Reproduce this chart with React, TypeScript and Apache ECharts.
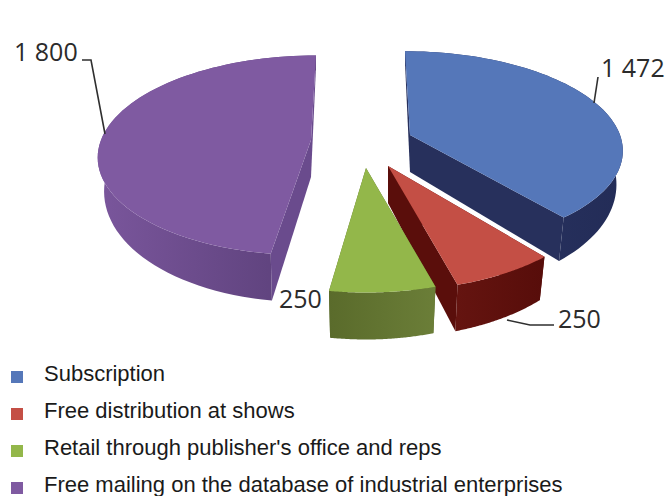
import React, { useEffect, useRef } from "react";
import * as echarts from "echarts";

const categories = [
  "Subscription",
  "Free distribution at shows",
  "Retail through publisher's office and reps",
  "Free mailing on the database of industrial enterprises",
];
const values = [1472, 250, 250, 1800];
const tickLabels = ["1 472", "250", "250", "1 800"];

const topColors = ["#5577b9", "#c44f45", "#93b74a", "#7f5aa1"];
const wallColors: [string, string][] = [
  ["#2b3666", "#232c57"],
  ["#651410", "#570d0a"],
  ["#5a6b2b", "#6b7e38"],
  ["#7a569c", "#5a3f78"],
];
const cutColors = ["#27305c", "#5a0e0b", "#5a6b2b", "#6a4b8d"];
const legendColors = ["#5577b9", "#c44f45", "#93b74a", "#7f5aa1"];

// Exploded wedge placement (apex of the top face) and perspective settings.
const apexes: [number, number][] = [
  [410, 135],
  [388, 166],
  [366, 168],
  [311, 140],
];
const leans = [-5, 0, 0, 5];
const radiiX = [210, 208, 208, 210];
const radiiY = [95.5, 99.6, 99.6, 97.5];
const persp = [0.14, 0.2, 0.2, 0.153];
const LOW_SHRINK = 0.97;

const labelPlaces: { x: number; y: number; line: [number, number][] }[] = [
  { x: 601, y: 67, line: [[594, 103], [598, 77]] },
  { x: 558, y: 318, line: [[507, 320], [530, 325], [554, 325]] },
  { x: 279, y: 298, line: [] },
  { x: 14, y: 51, line: [[82, 60], [91, 60], [105, 134]] },
];

const total = values.reduce((a, b) => a + b, 0);
const starts = values.map((_, i) =>
  values.slice(0, i).reduce((a, b) => a + b, 0) / total * Math.PI * 2
);

function rimPoint(i: number, t: number): [number, number] {
  const p = 1 / (1 + persp[i] * Math.cos(t));
  return [
    apexes[i][0] + radiiX[i] * Math.sin(t) * p + leans[i] * Math.cos(t),
    apexes[i][1] - radiiY[i] * Math.cos(t) * p,
  ];
}
const rimDepth = (t: number) => 31 + 16 * -Math.cos(t);
const APEX_DEPTH = 37;

function wedge(i: number) {
  const t0 = starts[i];
  const t1 = t0 + (values[i] / total) * Math.PI * 2;
  const n = 72;
  const ts: number[] = [];
  for (let k = 0; k <= n; k++) ts.push(t0 + ((t1 - t0) * k) / n);
  const apex = apexes[i];
  const rim = ts.map((t) => rimPoint(i, t));
  const rimLow = ts.map((t, k) => [
    apex[0] + (rim[k][0] - apex[0]) * LOW_SHRINK,
    rim[k][1] + rimDepth(t),
  ]);
  const apexLow = [apex[0], apex[1] + APEX_DEPTH];
  const a = rim[0];
  const aLow = rimLow[0];
  const b = rim[n];
  const bLow = rimLow[n];
  const grad = {
    type: "linear",
    x: 0,
    y: 0,
    x2: 1,
    y2: 0,
    colorStops: [
      { offset: 0, color: wallColors[i][0] },
      { offset: 1, color: wallColors[i][1] },
    ],
  };
  const place = labelPlaces[i];
  const children: any[] = [
    { type: "polygon", shape: { points: [apex, a, aLow, apexLow] }, style: { fill: cutColors[i] } },
    { type: "polygon", shape: { points: [apex, b, bLow, apexLow] }, style: { fill: cutColors[i] } },
    {
      type: "polygon",
      shape: { points: [...rim, ...rimLow.slice().reverse()] },
      style: { fill: grad },
    },
    { type: "polygon", shape: { points: [apex, ...rim] }, style: { fill: topColors[i] } },
  ];
  if (place.line.length) {
    children.push({
      type: "polyline",
      shape: { points: place.line },
      style: { stroke: "#2f2f2f", lineWidth: 1.6, fill: "none" },
    });
  }
  children.push({
    type: "text",
    style: {
      text: tickLabels[i],
      x: place.x,
      y: place.y,
      fill: "#2b2b2b",
      font: '25px "Open Sans"',
      verticalAlign: "middle",
      align: "left",
    },
  });
  return { type: "group", children };
}

export default function App() {
  const ref = useRef<HTMLDivElement>(null);
  useEffect(() => {
    document.body.style.margin = "0";
    const chart = echarts.init(ref.current!, null, { renderer: "svg" });
    chart.setOption({
      animation: false,
      backgroundColor: "#ffffff",
      legend: {
        orient: "vertical",
        left: 11,
        top: 361,
        height: 200,
        itemWidth: 12,
        itemHeight: 12,
        itemGap: 5,
        padding: 0,
        icon: "rect",
        selectedMode: false,
        data: categories,
        formatter: (name: string) => `{a|${name}}{b| }`,
        textStyle: {
          fontFamily: '"Liberation Sans"',
          fontSize: 22,
          color: "#1a1a1a",
          rich: {
            a: {
              fontFamily: '"Liberation Sans"',
              fontSize: 22,
              color: "#1a1a1a",
              lineHeight: 24,
              height: 24,
              verticalAlign: "top",
              padding: [0, 0, 0, 16],
            },
            b: { fontSize: 4, lineHeight: 32, height: 32, width: 1 },
          },
        },
      },
      series: categories.map((name, i) => ({
        type: "custom",
        name,
        coordinateSystem: "none",
        silent: true,
        itemStyle: { color: legendColors[i] },
        data: [values[i]],
        renderItem: () => wedge(i),
      })),
    });
    return () => chart.dispose();
  }, []);
  return <div ref={ref} style={{ width: 667, height: 496 }} />;
}
